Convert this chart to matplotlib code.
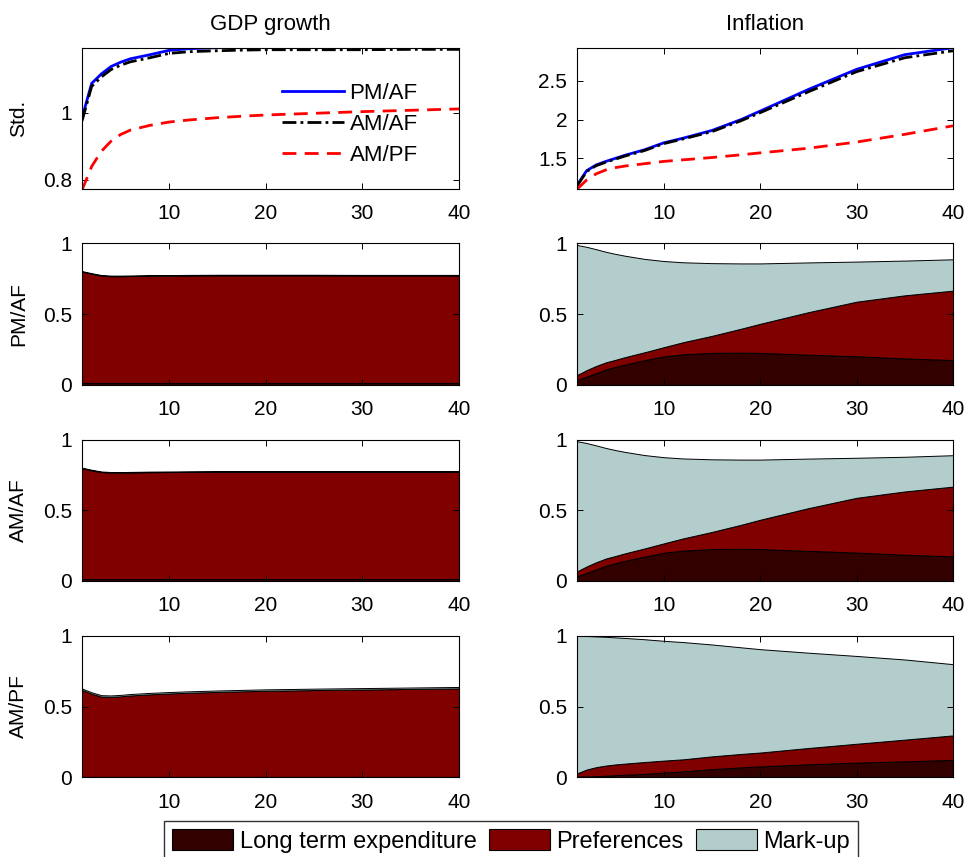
import numpy as np
import matplotlib
matplotlib.use("Agg")
import matplotlib.pyplot as plt
from matplotlib.patches import Patch

plt.rcParams['font.family'] = ['Liberation Sans', 'DejaVu Sans']

horizon = [1, 2, 3, 4, 5, 6, 8, 10, 12, 15, 18, 20, 25, 30, 35, 40]

# --- unconditional std. of GDP growth by regime
gdp_pmaf = [0.984, 1.087, 1.115, 1.137, 1.150, 1.160, 1.172, 1.185, 1.190, 1.193, 1.195, 1.196, 1.197, 1.197, 1.197, 1.197]
gdp_amaf = [0.975, 1.078, 1.106, 1.128, 1.141, 1.151, 1.163, 1.176, 1.181, 1.184, 1.186, 1.187, 1.187, 1.187, 1.188, 1.188]
gdp_ampf = [0.770, 0.840, 0.885, 0.915, 0.935, 0.948, 0.962, 0.972, 0.978, 0.985, 0.990, 0.993, 0.998, 1.003, 1.007, 1.011]

# --- unconditional std. of inflation by regime
inf_pmaf = [1.150, 1.340, 1.415, 1.460, 1.500, 1.540, 1.610, 1.700, 1.760, 1.860, 2.000, 2.110, 2.390, 2.650, 2.840, 2.930]
inf_amaf = [1.140, 1.330, 1.405, 1.450, 1.490, 1.530, 1.600, 1.690, 1.750, 1.845, 1.985, 2.090, 2.360, 2.620, 2.800, 2.890]
inf_ampf = [1.100, 1.220, 1.300, 1.350, 1.380, 1.400, 1.430, 1.460, 1.480, 1.510, 1.545, 1.570, 1.630, 1.710, 1.810, 1.920]

regimes = ["PM/AF", "AM/AF", "AM/PF"]
shock_names = ["Long term expenditure", "Preferences", "Mark-up"]
shock_colors = ["#330000", "#800000", "#b3cccc"]

# --- variance shares, GDP growth: [long term expenditure, preferences, mark-up]
gdp_lt_pmaf = [0.015, 0.015, 0.015, 0.015, 0.015, 0.015, 0.015, 0.015, 0.015, 0.015, 0.015, 0.015, 0.015, 0.015, 0.015, 0.015]
gdp_pr_pmaf = [0.785, 0.770, 0.757, 0.753, 0.753, 0.754, 0.756, 0.757, 0.758, 0.759, 0.759, 0.759, 0.759, 0.758, 0.758, 0.758]
gdp_mu_pmaf = [0.004, 0.004, 0.004, 0.004, 0.004, 0.004, 0.004, 0.004, 0.004, 0.004, 0.004, 0.004, 0.004, 0.004, 0.004, 0.004]

gdp_lt_amaf = [0.014, 0.014, 0.014, 0.014, 0.014, 0.014, 0.014, 0.014, 0.014, 0.014, 0.014, 0.014, 0.014, 0.014, 0.014, 0.014]
gdp_pr_amaf = [0.783, 0.768, 0.756, 0.752, 0.752, 0.753, 0.755, 0.756, 0.757, 0.758, 0.758, 0.758, 0.758, 0.758, 0.758, 0.758]
gdp_mu_amaf = [0.004, 0.004, 0.004, 0.004, 0.004, 0.004, 0.004, 0.004, 0.004, 0.004, 0.004, 0.004, 0.004, 0.004, 0.004, 0.004]

gdp_lt_ampf = [0.003, 0.003, 0.003, 0.003, 0.003, 0.003, 0.003, 0.003, 0.003, 0.003, 0.003, 0.003, 0.003, 0.003, 0.003, 0.003]
gdp_pr_ampf = [0.614, 0.587, 0.567, 0.565, 0.569, 0.575, 0.583, 0.589, 0.594, 0.600, 0.605, 0.608, 0.613, 0.617, 0.621, 0.625]
gdp_mu_ampf = [0.010, 0.010, 0.010, 0.010, 0.010, 0.010, 0.010, 0.010, 0.010, 0.010, 0.010, 0.010, 0.010, 0.010, 0.010, 0.010]

# --- variance shares, inflation
inf_lt_pmaf = [0.035, 0.060, 0.085, 0.110, 0.128, 0.145, 0.175, 0.202, 0.217, 0.227, 0.229, 0.227, 0.214, 0.203, 0.188, 0.176]
inf_pr_pmaf = [0.035, 0.045, 0.050, 0.050, 0.050, 0.052, 0.056, 0.065, 0.085, 0.120, 0.168, 0.205, 0.300, 0.385, 0.445, 0.490]
inf_mu_pmaf = [0.918, 0.870, 0.823, 0.780, 0.747, 0.715, 0.659, 0.608, 0.564, 0.513, 0.461, 0.426, 0.351, 0.283, 0.245, 0.221]

inf_lt_amaf = [0.034, 0.058, 0.083, 0.108, 0.126, 0.143, 0.173, 0.200, 0.215, 0.226, 0.228, 0.226, 0.213, 0.201, 0.186, 0.174]
inf_pr_amaf = [0.034, 0.045, 0.050, 0.051, 0.051, 0.053, 0.057, 0.066, 0.086, 0.121, 0.169, 0.207, 0.302, 0.387, 0.447, 0.493]
inf_mu_amaf = [0.920, 0.872, 0.825, 0.781, 0.748, 0.716, 0.660, 0.609, 0.565, 0.513, 0.461, 0.425, 0.350, 0.283, 0.245, 0.222]

inf_lt_ampf = [0.005, 0.006, 0.008, 0.011, 0.015, 0.018, 0.025, 0.033, 0.042, 0.058, 0.070, 0.077, 0.092, 0.104, 0.113, 0.123]
inf_pr_ampf = [0.023, 0.049, 0.064, 0.072, 0.076, 0.079, 0.083, 0.085, 0.085, 0.090, 0.095, 0.098, 0.115, 0.133, 0.153, 0.173]
inf_mu_ampf = [0.972, 0.943, 0.923, 0.909, 0.897, 0.887, 0.867, 0.846, 0.828, 0.790, 0.753, 0.730, 0.673, 0.620, 0.566, 0.503]

gdp_shares = [
    (gdp_lt_pmaf, gdp_pr_pmaf, gdp_mu_pmaf),
    (gdp_lt_amaf, gdp_pr_amaf, gdp_mu_amaf),
    (gdp_lt_ampf, gdp_pr_ampf, gdp_mu_ampf),
]
inf_shares = [
    (inf_lt_pmaf, inf_pr_pmaf, inf_mu_pmaf),
    (inf_lt_amaf, inf_pr_amaf, inf_mu_amaf),
    (inf_lt_ampf, inf_pr_ampf, inf_mu_ampf),
]

W, H = 967, 857
fig = plt.figure(figsize=(W / 100, H / 100), dpi=100)

# axes boxes in pixels (left, top, right, bottom)
col_x = [(82, 459), (577, 953)]
row_y = [(47.7, 189), (243.3, 385), (439.5, 581), (635.7, 777.3)]

TICK_FS = 15
LABEL_FS = 15


def make_ax(r, c):
    x0, x1 = col_x[c]
    y0, y1 = row_y[r]
    ax = fig.add_axes([x0 / W, 1 - y1 / H, (x1 - x0) / W, (y1 - y0) / H])
    ax.set_xlim(1, 40)
    ax.set_xticks([10, 20, 30, 40])
    ax.tick_params(direction='in', top=True, right=True, length=4, width=0.7,
                   labelsize=TICK_FS, pad=7)
    ax.tick_params(axis='x', pad=11)
    for s in ax.spines.values():
        s.set_linewidth(0.8)
    return ax


def set_ylabel(ax, text):
    ax.set_ylabel(text, fontsize=LABEL_FS)
    ax.yaxis.set_label_coords(-0.143, 0.5)


# --- top row: std. lines
ax = make_ax(0, 0)
ax.plot(horizon, gdp_pmaf, color='#0000ff', lw=2.0, label="PM/AF")
ax.plot(horizon, gdp_amaf, color='black', lw=2.0, linestyle=(0, (5, 1.5, 1, 1.5)), label="AM/AF")
ax.plot(horizon, gdp_ampf, color='#ff0000', lw=2.0, linestyle=(0, (5, 3)), label="AM/PF")
ax.set_ylim(0.773, 1.193)
ax.set_yticks([0.8, 1.0])
ax.set_yticklabels(["0.8", "1"])
ax.set_title("GDP growth", fontsize=16, pad=13)
set_ylabel(ax, "Std.")
ax.legend(loc='center left', bbox_to_anchor=(0.53, 0.455), frameon=False,
          fontsize=16, handlelength=2.8, handletextpad=0.25, labelspacing=0.45,
          borderpad=0, borderaxespad=0)

ax = make_ax(0, 1)
ax.plot(horizon, inf_pmaf, color='#0000ff', lw=2.0)
ax.plot(horizon, inf_amaf, color='black', lw=2.0, linestyle=(0, (5, 1.5, 1, 1.5)))
ax.plot(horizon, inf_ampf, color='#ff0000', lw=2.0, linestyle=(0, (5, 3)))
ax.set_ylim(1.103, 2.93)
ax.set_yticks([1.5, 2.0, 2.5])
ax.set_yticklabels(["1.5", "2", "2.5"])
ax.set_title("Inflation", fontsize=16, pad=13)

# --- variance decomposition rows
for i, reg in enumerate(regimes):
    for c, shares in enumerate([gdp_shares, inf_shares]):
        ax = make_ax(i + 1, c)
        ax.stackplot(horizon, *shares[i], colors=shock_colors,
                     edgecolor='black', linewidth=0.7)
        ax.set_ylim(0, 1)
        ax.set_yticks([0, 0.5, 1])
        ax.set_yticklabels(["0", "0.5", "1"])
        ax.set_axisbelow(False)
        if c == 0:
            set_ylabel(ax, reg)

handles = [Patch(facecolor=col, edgecolor='black', linewidth=0.8) for col in shock_colors]
leg = fig.legend(handles, shock_names, loc='upper center', bbox_to_anchor=(511 / W, 1 - 820.7 / H),
                 ncol=3, fontsize=17, frameon=True, fancybox=False, edgecolor='black',
                 handlelength=2.6, handleheight=1.0, handletextpad=0.28, columnspacing=0.5,
                 borderpad=0.35, borderaxespad=0)
leg.get_frame().set_linewidth(1.0)

fig.savefig("out.png", dpi=100)
